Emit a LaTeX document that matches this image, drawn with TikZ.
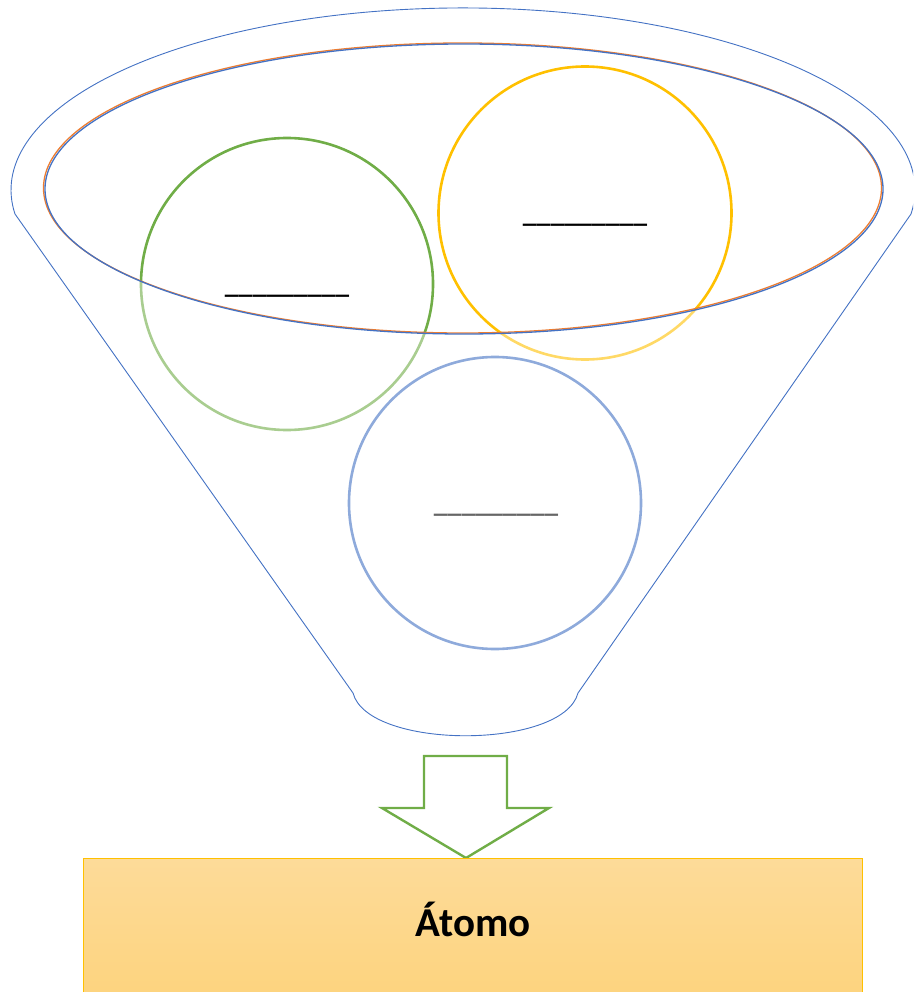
\documentclass[tikz,border=0pt]{standalone}
\usepackage{fontspec}
\setmainfont{Carlito}
\definecolor{fblue}{HTML}{4472C4}
\definecolor{forange}{HTML}{ED7D31}
\definecolor{fgreen}{HTML}{70AD47}
\definecolor{fgold}{HTML}{FFC000}
\definecolor{boxtop}{RGB}{253,219,153}
\definecolor{boxbot}{RGB}{253,211,124}
\tikzset{
  ring/.style={line width=2.6pt},
  blank/.style={font=\fontsize{27.7}{30}\selectfont\bfseries, inner sep=0pt, anchor=base},
  rim/.style={line width=1.3pt},
}
\begin{document}
\begin{tikzpicture}[x=1pt,y=-1pt]
\useasboundingbox (0,0) rectangle (913,992);
\clip (0,0) rectangle (913,992);

% the three circles with their blanks
\draw[ring, fgreen] (287,284) circle[radius=146];
\draw[ring, fgold]  (585,213) circle[radius=146.5];
\draw[ring, fblue]  (495,503) circle[radius=146];
\node[blank] (tg) at (287,293.5) {\_\_\_\_\_\_\_\_\_};
\node[blank] (ty) at (585,222.5) {\_\_\_\_\_\_\_\_\_};
\node[blank] (tb) at (496,512.5) {\_\_\_\_\_\_\_\_\_};

% translucent funnel body, open at the inner rim
\fill[white, fill opacity=0.4, even odd rule]
  (15,214) -- (353,693) .. controls (368,750) and (563,750) .. (578,693) -- (911,214)
  arc[start angle=7.6, end angle=-187.6, x radius=452, y radius=182] -- cycle
  (464,189) ellipse[x radius=419, y radius=145];

% funnel outline
\draw[fblue, line width=0.9pt]
  (15,214) -- (353,693) .. controls (368,750) and (563,750) .. (578,693) -- (911,214)
  arc[start angle=7.6, end angle=-187.6, x radius=452, y radius=182] -- cycle;
\draw[rim, forange] (462.5,188) ellipse[x radius=419, y radius=145];
\draw[rim, fblue]   (464,189) ellipse[x radius=419, y radius=145];

% block arrow
\draw[fgreen, line width=2.4pt, fill=white, line join=miter]
  (424,756) -- (507,756) -- (507,808) -- (549,808) -- (466,858)
  -- (382,808) -- (424,808) -- cycle;

% result box
\node[draw=fgold, line width=0.9pt, top color=boxtop, bottom color=boxbot,
      minimum width=779pt, minimum height=150pt, anchor=north west, inner sep=0pt]
  (box) at (83,858) {};
\node[font=\fontsize{41}{45}\selectfont\bfseries, anchor=base] (lbl) at (473,936) {Átomo};
\end{tikzpicture}
\end{document}
